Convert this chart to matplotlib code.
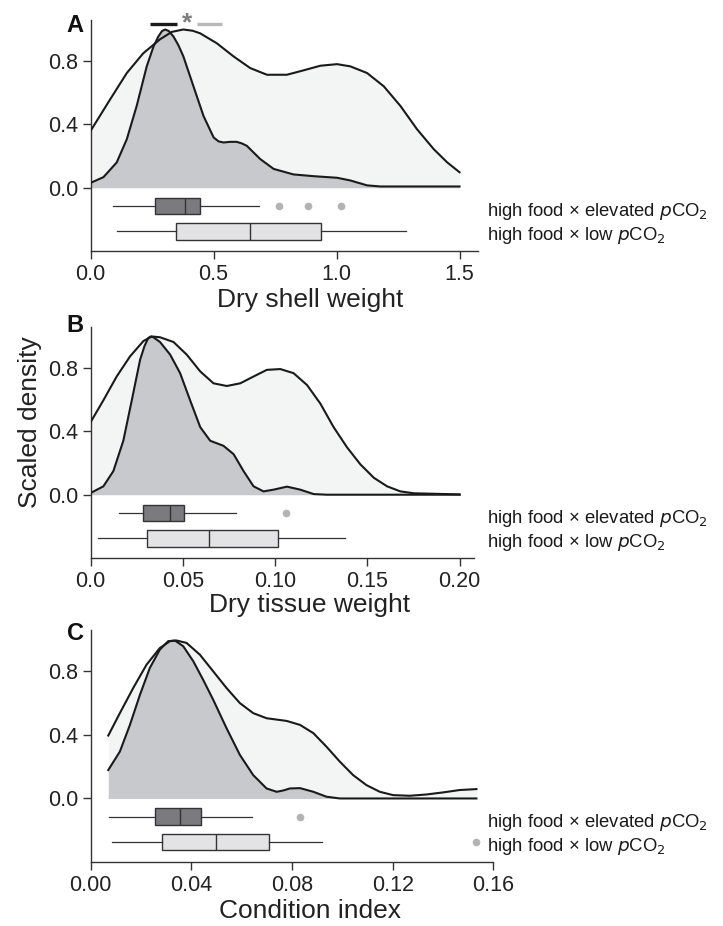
import matplotlib
matplotlib.use('Agg')
import matplotlib.pyplot as plt
from matplotlib.transforms import blended_transform_factory

plt.rcParams['font.family'] = ['Liberation Sans', 'DejaVu Sans']

# Scaled density curves, dry shell weight
shell_x_low = [0.0, 0.079, 0.147, 0.214, 0.282, 0.33, 0.377, 0.415, 0.445, 0.513, 0.581, 0.649, 0.717,
               0.798, 0.866, 0.934, 1.002, 1.056, 1.124, 1.192, 1.26, 1.327, 1.395, 1.45, 1.5]
shell_y_low = [0.36, 0.558, 0.725, 0.85, 0.938, 0.985, 1.0, 0.992, 0.976, 0.913, 0.83, 0.756, 0.714,
               0.714, 0.742, 0.771, 0.781, 0.767, 0.725, 0.641, 0.516, 0.37, 0.244, 0.16, 0.098]
shell_x_elev = [0.0, 0.052, 0.106, 0.147, 0.187, 0.228, 0.255, 0.275, 0.29, 0.303, 0.318, 0.337, 0.357,
                0.377, 0.418, 0.459, 0.5, 0.52, 0.54, 0.567, 0.594, 0.615, 0.635, 0.689, 0.744, 0.825,
                0.907, 1.002, 1.056, 1.124, 1.178, 1.5]
shell_y_elev = [0.031, 0.067, 0.16, 0.307, 0.516, 0.767, 0.89, 0.955, 0.99, 1.0, 0.99, 0.955, 0.9,
                0.83, 0.641, 0.453, 0.318, 0.293, 0.286, 0.29, 0.29, 0.28, 0.265, 0.182, 0.119, 0.084,
                0.073, 0.063, 0.046, 0.015, 0.008, 0.008]

# Scaled density curves, dry tissue weight
tissue_x_low = [0.0, 0.0069, 0.0141, 0.0214, 0.0286, 0.0331, 0.0376, 0.0449, 0.0521, 0.0594, 0.0666,
                0.0738, 0.0811, 0.0883, 0.0955, 0.1028, 0.11, 0.1173, 0.1245, 0.1317, 0.139, 0.1462,
                0.1535, 0.1607, 0.1679, 0.1752, 0.2]
tissue_y_low = [0.459, 0.597, 0.747, 0.875, 0.971, 1.0, 0.995, 0.965, 0.885, 0.779, 0.704,
                0.687, 0.704, 0.747, 0.789, 0.794, 0.768, 0.693, 0.576, 0.427, 0.299, 0.192,
                0.107, 0.053, 0.021, 0.009, 0.002]
tissue_x_elev = [0.0, 0.0069, 0.0123, 0.0177, 0.0223, 0.0268, 0.0292, 0.0312, 0.0326, 0.034, 0.0376,
                 0.0431, 0.0485, 0.0539, 0.0594, 0.0648, 0.072, 0.0775, 0.0829, 0.0883, 0.0937,
                 0.0992, 0.1064, 0.1136, 0.1209, 0.128, 0.2]
tissue_y_elev = [0.011, 0.053, 0.149, 0.341, 0.597, 0.853, 0.94, 0.99, 1.0, 0.995, 0.965,
                 0.885, 0.768, 0.597, 0.427, 0.341, 0.309, 0.256, 0.149, 0.053, 0.021,
                 0.032, 0.051, 0.032, 0.004, 0.0, 0.0]

# Scaled density curves, condition index
ci_x_low = [0.007, 0.0116, 0.0169, 0.0222, 0.0275, 0.0315, 0.0342, 0.0381, 0.0434, 0.0487, 0.054,
            0.0593, 0.0646, 0.0699, 0.0779, 0.0832, 0.0885, 0.0937, 0.099, 0.1043, 0.1096, 0.1149,
            0.1202, 0.1268, 0.1334, 0.14, 0.1466, 0.1533]
ci_y_low = [0.396, 0.537, 0.695, 0.842, 0.947, 0.99, 0.994, 0.979, 0.905, 0.8, 0.695,
            0.6, 0.537, 0.505, 0.488, 0.463, 0.411, 0.326, 0.232, 0.147, 0.084, 0.042,
            0.021, 0.017, 0.025, 0.038, 0.053, 0.059]
ci_x_elev = [0.007, 0.0116, 0.0156, 0.0196, 0.0235, 0.0275, 0.0308, 0.0335, 0.0368, 0.0408, 0.0447,
             0.0487, 0.054, 0.0593, 0.0646, 0.0699, 0.0739, 0.0765, 0.0792, 0.0832, 0.0885, 0.0937,
             0.099, 0.1533]
ci_y_elev = [0.179, 0.295, 0.463, 0.653, 0.821, 0.937, 0.99, 0.994, 0.958, 0.863, 0.747,
             0.621, 0.442, 0.274, 0.147, 0.063, 0.042, 0.05, 0.063, 0.065, 0.042, 0.011,
             0.0, 0.0]

# Box plot summaries: [lower whisker, Q1, median, Q3, upper whisker]
shell_box_elev = [0.089, 0.262, 0.385, 0.445, 0.683]
shell_out_elev = [0.767, 0.882, 1.018]
shell_box_low = [0.108, 0.347, 0.646, 0.936, 1.282]
shell_out_low = []

tissue_box_elev = [0.0155, 0.0282, 0.0429, 0.0507, 0.0787]
tissue_out_elev = [0.106]
tissue_box_low = [0.0041, 0.0307, 0.0644, 0.1013, 0.138]
tissue_out_low = []

ci_box_elev = [0.0073, 0.0254, 0.0355, 0.0437, 0.0642]
ci_out_elev = [0.0832]
ci_box_low = [0.0083, 0.0282, 0.05, 0.0707, 0.0918]
ci_out_low = [0.1533]

# Significance bars above panel A
sig_elev = [0.241, 0.35]
sig_low = [0.432, 0.533]

group_labels = ['high food \u00d7 elevated $\\it{p}$CO$_2$', 'high food \u00d7 low $\\it{p}$CO$_2$']

LINE = '#1a1a1a'
EDGE = '#333333'
FILL_LOW = '#f3f5f4'
FILL_ELEV = '#c8c9cc'
BOX_ELEV = '#7b7a7f'
BOX_LOW = '#e3e3e5'
OUTLIER = '#b3b3b3'

ROW_ELEV = -0.115
ROW_LOW = -0.275


def make_stats(s, fliers):
    return {'whislo': s[0], 'q1': s[1], 'med': s[2], 'q3': s[3], 'whishi': s[4], 'fliers': fliers}


def draw_panel(ax, xl, yl, xe, ye, box_e, out_e, box_l, out_l, xlim, xticks, xticklabels):
    # densities: broad low-pCO2 curve behind, elevated curve in front
    ax.fill_between(xl, 0, yl, color=FILL_LOW, lw=0, zorder=1)
    ax.fill_between(xe, 0, ye, color=FILL_ELEV, lw=0, zorder=2)
    ax.plot(xl, yl, color=LINE, lw=1.5, zorder=3, solid_joinstyle='round')
    ax.plot(xe, ye, color=LINE, lw=1.5, zorder=3, solid_joinstyle='round')

    stats = [make_stats(box_e, out_e), make_stats(box_l, out_l)]
    bp = ax.bxp(stats, positions=[ROW_ELEV, ROW_LOW], widths=0.105, orientation='horizontal',
                patch_artist=True, showcaps=False,
                boxprops=dict(edgecolor=EDGE, linewidth=1.0),
                medianprops=dict(color=EDGE, linewidth=1.0),
                whiskerprops=dict(color=EDGE, linewidth=0.9),
                flierprops=dict(marker='o', markerfacecolor=OUTLIER, markeredgecolor=OUTLIER,
                                markersize=4.5))
    bp['boxes'][0].set_facecolor(BOX_ELEV)
    bp['boxes'][1].set_facecolor(BOX_LOW)

    ax.set_xlim(*xlim)
    ax.set_ylim(-0.40, 1.06)
    ax.set_xticks(xticks)
    ax.set_xticklabels(xticklabels)
    ax.set_yticks([0.0, 0.4, 0.8])
    ax.set_yticklabels(['0.0', '0.4', '0.8'])
    for side in ['top', 'right']:
        ax.spines[side].set_visible(False)
    for side in ['left', 'bottom']:
        ax.spines[side].set_color(EDGE)
        ax.spines[side].set_linewidth(1.0)
    ax.tick_params(labelsize=15.5, length=6, width=1.0, color=EDGE, labelcolor='#222222', pad=3)

    # group labels to the right of the boxes
    trans = blended_transform_factory(fig.transFigure, ax.transData)
    ax.text(487 / 723, ROW_ELEV - 0.035, group_labels[0], transform=trans, fontsize=13.3,
            va='center', ha='left', color=LINE)
    ax.text(487 / 723, ROW_LOW - 0.025, group_labels[1], transform=trans, fontsize=13.3,
            va='center', ha='left', color=LINE)


fig = plt.figure(figsize=(7.23, 9.26), dpi=100)
ax_a = fig.add_axes([0.1254, 0.7289, 0.5357, 0.2495])
ax_b = fig.add_axes([0.1254, 0.3974, 0.5302, 0.2495])
ax_c = fig.add_axes([0.1254, 0.0691, 0.5569, 0.2505])

draw_panel(ax_a, shell_x_low, shell_y_low, shell_x_elev, shell_y_elev,
           shell_box_elev, shell_out_elev, shell_box_low, shell_out_low,
           (0, 1.575), [0.0, 0.5, 1.0, 1.5], ['0.0', '0.5', '1.0', '1.5'])
draw_panel(ax_b, tissue_x_low, tissue_y_low, tissue_x_elev, tissue_y_elev,
           tissue_box_elev, tissue_out_elev, tissue_box_low, tissue_out_low,
           (0, 0.2078), [0.0, 0.05, 0.10, 0.15, 0.20], ['0.0', '0.05', '0.10', '0.15', '0.20'])
draw_panel(ax_c, ci_x_low, ci_y_low, ci_x_elev, ci_y_elev,
           ci_box_elev, ci_out_elev, ci_box_low, ci_out_low,
           (0, 0.16), [0.0, 0.04, 0.08, 0.12, 0.16], ['0.00', '0.04', '0.08', '0.12', '0.16'])

# significance marker over panel A
ax_a.plot(sig_elev, [1.036, 1.036], color=LINE, lw=2.4, clip_on=False, solid_capstyle='butt')
ax_a.plot(sig_low, [1.036, 1.036], color='#b8b8b8', lw=2.4, clip_on=False, solid_capstyle='butt')
ax_a.text((sig_elev[1] + sig_low[0]) / 2, 1.04, '*', fontsize=19, fontweight='bold',
          color='#7f7f7f', ha='center', va='center', clip_on=False)

# panel letters
for letter, y in [('A', 25), ('B', 325), ('C', 633)]:
    fig.text(75 / 723, 1 - y / 926, letter, fontsize=17, fontweight='bold', ha='center', va='center',
             color='#111111')

# axis titles
for title, y in [('Dry shell weight', 300), ('Dry tissue weight', 605), ('Condition index', 911)]:
    fig.text(310 / 723, 1 - y / 926, title, fontsize=19, ha='center', va='center', color='#222222')
fig.text(30 / 723, 1 - 422 / 926, 'Scaled density', fontsize=19, rotation=90,
         ha='center', va='center', color='#222222')

fig.savefig('out.png', dpi=100)
